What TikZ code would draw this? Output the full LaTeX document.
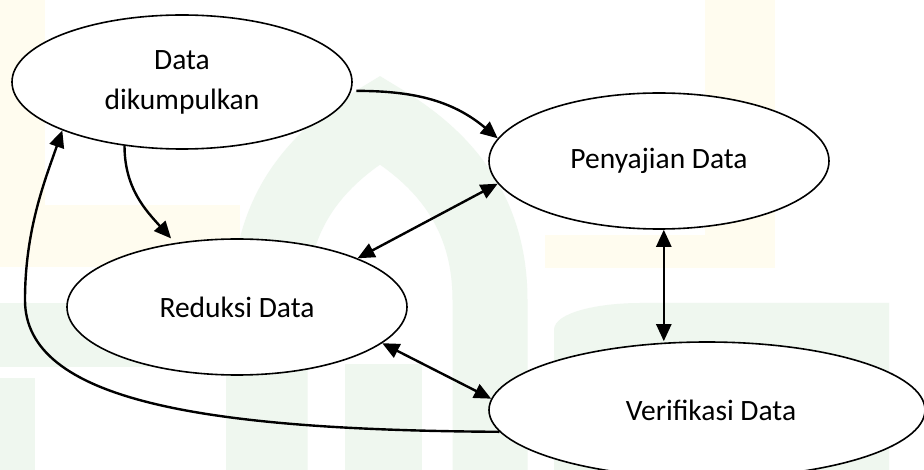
\documentclass[tikz,border=0pt]{standalone}
\usepackage{fontspec}
\setmainfont{Carlito}
\usetikzlibrary{shapes.geometric,arrows.meta}
\definecolor{wmgreen}{HTML}{EFF7EF}
\definecolor{wmyellow}{HTML}{FFFCEF}
\tikzset{
  proc/.style={ellipse, draw=black, line width=1.6pt, fill=white, inner sep=0pt,
    font=\fontsize{29.5}{40}\selectfont, align=center},
  conn/.style={line width=2.4pt, -{Triangle[length=17pt,width=15pt]}},
  dbl/.style={line width=2.4pt, {Triangle[length=17pt,width=15pt]}-{Triangle[length=17pt,width=15pt]}}
}
\begin{document}
\begin{tikzpicture}[x=1pt,y=-1pt]
\useasboundingbox (0,0) rectangle (924,470);
\fill[white] (0,0) rectangle (924,470);
% faint watermark
\begin{scope}
\fill[wmyellow] (0,0) rectangle (45,267);
\fill[wmyellow] (45,205) rectangle (240,267);
\fill[wmyellow] (705,0) rectangle (775,268);
\fill[wmyellow] (545,235) rectangle (775,268);
\fill[wmgreen] (0,303) rectangle (240,367);
\fill[wmgreen] (0,378) rectangle (35,470);
\fill[wmgreen] (226,364) rectangle (297,470);
\fill[wmgreen] (345,364) rectangle (422,470);
\fill[wmgreen] (554,330) .. controls (554,312) and (600,303) .. (640,303) -- (889,303) -- (889,470) -- (554,470) -- cycle;
\draw[wmgreen, line width=75pt] (270,470) -- (270,300) .. controls (270,200) and (330,150) .. (380,120) .. controls (430,150) and (490,200) .. (490,300) -- (490,470);
\end{scope}
% nodes
\node[proc, minimum width=340pt, minimum height=134pt] (d) at (182,82) {Data\\dikumpulkan};
\node[proc, minimum width=340pt, minimum height=136pt] (p) at (659,161) {Penyajian Data};
\node[proc, minimum width=340pt, minimum height=136pt] (r) at (237,307) {Reduksi Data};
\node[proc, minimum width=436pt, minimum height=136pt] (v) at (707,410) {\hspace*{8pt}Verifikasi Data};
% connectors
\draw[conn, shorten <=5pt] (d.-3) to[out=0,in=140] (p.172.6);
\draw[conn, shorten >=6pt] (d.-132) to[out=-90,in=132] (r.134);
\draw[dbl] (r.22) -- (p.188);
\draw[dbl] (p.-86) -- (p.-86 |- v.north);
\draw[dbl] (r.-14) -- (v.177);
\draw[conn] (v.186) .. controls (200,430) and (25,400) .. (25,300)
  .. controls (25,230) and (45,180) .. (d.202);
\end{tikzpicture}
\end{document}
